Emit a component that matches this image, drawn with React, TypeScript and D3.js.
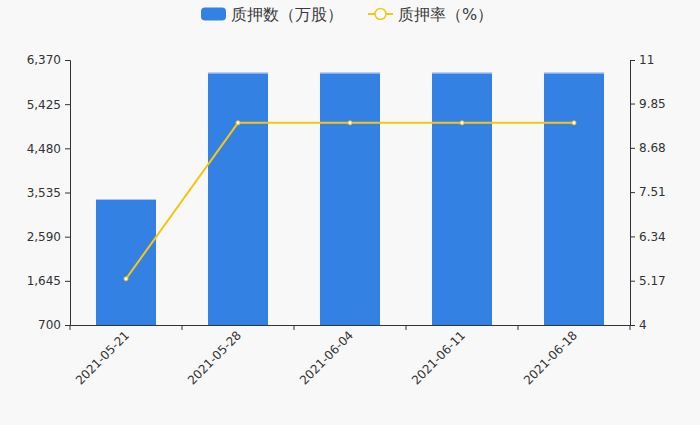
import React, { useEffect, useRef } from 'react';
import * as d3 from 'd3';

const categories = ['2021-05-21', '2021-05-28', '2021-06-04', '2021-06-11', '2021-06-18'];
const pledgeShares = [3396, 6098, 6098, 6098, 6098];
const pledgeRatio = [5.22, 9.34, 9.34, 9.34, 9.34];
const leftTicks = [700, 1645, 2590, 3535, 4480, 5425, 6370];
const rightTicks = [4, 5.17, 6.34, 7.51, 8.68, 9.85, 11];

const BAR_COLOR = '#3381e3';
const LINE_COLOR = '#f7c515';
const TEXT_COLOR = '#333';
const FONT = '"DejaVu Sans", sans-serif';

export default function App() {
  const svgRef = useRef<SVGSVGElement>(null);

  useEffect(() => {
    if (!svgRef.current) return;
    const svg = d3.select(svgRef.current);
    svg.selectAll('*').remove();

    const left = 70, right = 630, top = 60, bottom = 325;

    svg.append('rect').attr('width', 700).attr('height', 425).attr('fill', '#f8f8f8');

    const x = d3.scaleBand().domain(categories).range([left, right]);
    const yL = d3.scaleLinear().domain([700, 6370]).range([bottom, top]);
    const yR = d3.scaleLinear().domain([4, 11]).range([bottom, top]);
    const barW = 60;
    const cx = (d: string) => (x(d) as number) + x.bandwidth() / 2;

    // bars
    const bars = svg.append('g');
    categories.forEach((c, i) => {
      bars.append('rect')
        .attr('x', cx(c) - barW / 2)
        .attr('y', yL(pledgeShares[i]))
        .attr('width', barW)
        .attr('height', bottom - yL(pledgeShares[i]))
        .attr('fill', BAR_COLOR);
      bars.append('line')
        .attr('x1', cx(c) - barW / 2)
        .attr('x2', cx(c) + barW / 2)
        .attr('y1', yL(pledgeShares[i]) + 0.5)
        .attr('y2', yL(pledgeShares[i]) + 0.5)
        .attr('stroke', '#a9c8f0')
        .attr('stroke-width', 1);
    });

    // left axis
    const gL = svg.append('g')
      .attr('transform', `translate(${left},0)`)
      .call(d3.axisLeft(yL).tickValues(leftTicks).tickSize(5).tickPadding(4)
        .tickFormat((d) => d3.format(',')(d as number)));
    // right axis
    const gR = svg.append('g')
      .attr('transform', `translate(${right},0)`)
      .call(d3.axisRight(yR).tickValues(rightTicks).tickSize(5).tickPadding(4)
        .tickFormat((d) => String(d)));
    // bottom axis
    const gB = svg.append('g')
      .attr('transform', `translate(0,${bottom})`)
      .call(d3.axisBottom(x).tickSize(0).tickFormat(() => ''));
    const boundaries = [...categories.map((c) => x(c) as number), right];
    gB.selectAll('.bnd').data(boundaries).enter().append('line')
      .attr('x1', (d) => d).attr('x2', (d) => d)
      .attr('y1', 0).attr('y2', 5)
      .attr('stroke', TEXT_COLOR);

    [gL, gR, gB].forEach((g) => {
      g.select('.domain').attr('stroke', TEXT_COLOR).attr('stroke-width', 1);
      g.selectAll('.tick line').attr('stroke', TEXT_COLOR);
      g.selectAll('.tick text').attr('fill', TEXT_COLOR)
        .style('font-family', FONT).style('font-size', '12px');
    });
    gB.select('.domain').attr('d', `M${left},0.5H${right}`);

    // x labels rotated
    svg.append('g').selectAll('text').data(categories).enter().append('text')
      .attr('transform', (d) => `translate(${cx(d) + 1},${bottom + 8}) rotate(-45)`)
      .attr('text-anchor', 'end')
      .attr('dy', '0.35em')
      .attr('fill', TEXT_COLOR)
      .style('font-family', FONT).style('font-size', '12px')
      .text((d) => d);

    // line
    const line = d3.line<number>()
      .x((_, i) => cx(categories[i]))
      .y((d) => yR(d));
    svg.append('path')
      .datum(pledgeRatio)
      .attr('d', line)
      .attr('fill', 'none')
      .attr('stroke', LINE_COLOR)
      .attr('stroke-width', 2);
    svg.append('g').selectAll('circle').data(pledgeRatio).enter().append('circle')
      .attr('cx', (_, i) => cx(categories[i]))
      .attr('cy', (d) => yR(d))
      .attr('r', 2)
      .attr('fill', '#fff')
      .attr('stroke', LINE_COLOR)
      .attr('stroke-width', 1);

    // legend
    const lg = svg.append('g');
    lg.append('rect').attr('x', 201).attr('y', 7.5).attr('width', 25).attr('height', 13)
      .attr('rx', 4).attr('fill', BAR_COLOR);
    lg.append('text').attr('x', 231).attr('y', 14).attr('dy', '0.35em')
      .attr('fill', '#3a3a3a').style('font-family', FONT).style('font-size', '16px')
      .text('质押数（万股）');
    lg.append('line').attr('x1', 368).attr('x2', 393).attr('y1', 14).attr('y2', 14)
      .attr('stroke', LINE_COLOR).attr('stroke-width', 2);
    lg.append('circle').attr('cx', 380.5).attr('cy', 14).attr('r', 5.5)
      .attr('fill', '#fff').attr('stroke', LINE_COLOR).attr('stroke-width', 1.5);
    lg.append('text').attr('x', 398).attr('y', 14).attr('dy', '0.35em')
      .attr('fill', '#3a3a3a').style('font-family', FONT).style('font-size', '16px')
      .text('质押率（%）');
  }, []);

  return (
    <div style={{ position: 'fixed', left: 0, top: 0 }}>
      <svg ref={svgRef} width={700} height={425} style={{ display: 'block' }} />
    </div>
  );
}
